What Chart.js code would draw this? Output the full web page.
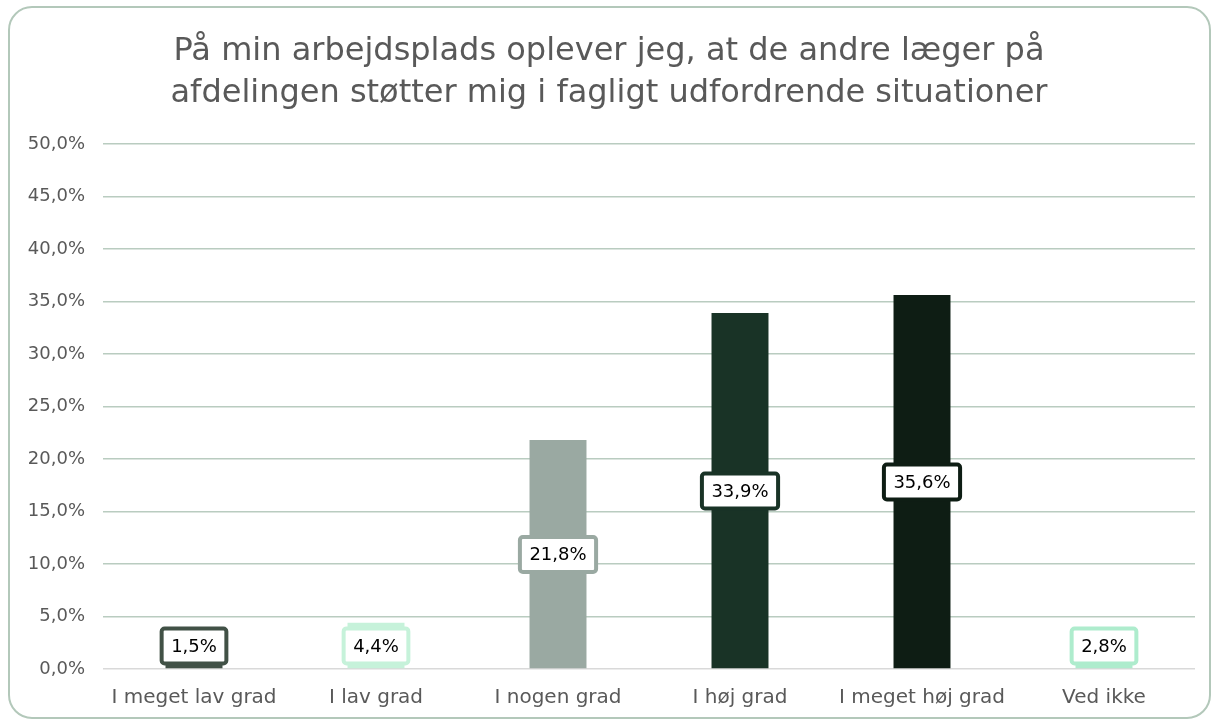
<!DOCTYPE html>
<html>
<head>
<meta charset="utf-8">
<script src="https://cdn.jsdelivr.net/npm/chart.js@4.4.1/dist/chart.umd.min.js"></script>
<style>
  html, body { margin: 0; padding: 0; background: #ffffff; }
  #frame {
    position: absolute; left: 8px; top: 6px; width: 1199px; height: 709px;
    border: 2px solid #b3c8ba; border-radius: 24px;
  }
  #wrap { position: absolute; left: 0; top: 0; width: 1218px; height: 724px; }
</style>
</head>
<body>
<div id="frame"></div>
<div id="wrap"><canvas id="myChart" width="1218" height="724"></canvas></div>
<script>
var categories = ["I meget lav grad", "I lav grad", "I nogen grad", "I høj grad", "I meget høj grad", "Ved ikke"];
var values = [1.5, 4.4, 21.8, 33.9, 35.6, 2.8];
var bar_colors = ["#415146", "#c6f2da", "#9aa9a2", "#193326", "#0e1d14", "#aeeccd"];
var title_lines = ["På min arbejdsplads oplever jeg, at de andre læger på", "afdelingen støtter mig i fagligt udfordrende situationer"];

var font_family = "'DejaVu Sans', sans-serif";

function pct(v) {
  return v.toFixed(1).replace('.', ',') + '%';
}

// white boxes with coloured border in the middle of each bar
var valueBoxes = {
  id: 'valueBoxes',
  afterDatasetsDraw: function (chart) {
    var ctx = chart.ctx;
    var meta = chart.getDatasetMeta(0);
    var base = chart.scales.y.getPixelForValue(0);
    ctx.save();
    ctx.font = '18px ' + font_family;
    ctx.textAlign = 'center';
    ctx.textBaseline = 'middle';
    meta.data.forEach(function (bar, i) {
      var text = pct(values[i]);
      var w = ctx.measureText(text).width + 19;
      var h = 35;
      var cy = (bar.y + base) / 2;
      if (cy > base - 23) cy = base - 23;
      ctx.beginPath();
      ctx.roundRect(bar.x - w / 2, cy - h / 2, w, h, 3);
      ctx.fillStyle = '#ffffff';
      ctx.fill();
      ctx.lineWidth = 4;
      ctx.strokeStyle = bar_colors[i];
      ctx.stroke();
      ctx.fillStyle = '#000000';
      ctx.fillText(text, bar.x, cy + 1);
    });
    ctx.restore();
  }
};

const ctx = document.getElementById('myChart');

new Chart(ctx, {
  type: 'bar',
  data: {
    labels: categories,
    datasets: [{
      data: values,
      backgroundColor: bar_colors,
      barPercentage: 0.313,
      categoryPercentage: 1.0
    }]
  },
  plugins: [valueBoxes],
  options: {
    responsive: false,
    animation: false,
    layout: { padding: { left: 23, right: 23, top: 0, bottom: 0 } },
    plugins: {
      legend: { display: false },
      tooltip: { enabled: false },
      title: {
        display: true,
        text: title_lines,
        color: '#595959',
        font: { family: font_family, size: 32, weight: 'normal', lineHeight: 1.31 },
        padding: { top: 31, bottom: 29 }
      }
    },
    scales: {
      x: {
        grid: { display: false },
        border: { display: false },
        ticks: { color: '#595959', font: { family: font_family, size: 20 }, padding: 9 },
        afterFit: function (scale) { scale.height = 55; }
      },
      y: {
        min: 0,
        max: 50,
        ticks: {
          stepSize: 5,
          color: '#595959',
          font: { family: font_family, size: 18 },
          padding: 18,
          callback: function (v) { return pct(v); }
        },
        grid: {
          drawTicks: false,
          lineWidth: 1.5,
          color: function (c) { return c.tick && c.tick.value === 0 ? '#d9d9d9' : '#b9ccc0'; }
        },
        border: { display: false },
        afterFit: function (scale) { scale.width = 80; }
      }
    }
  }
});
</script>
</body>
</html>
